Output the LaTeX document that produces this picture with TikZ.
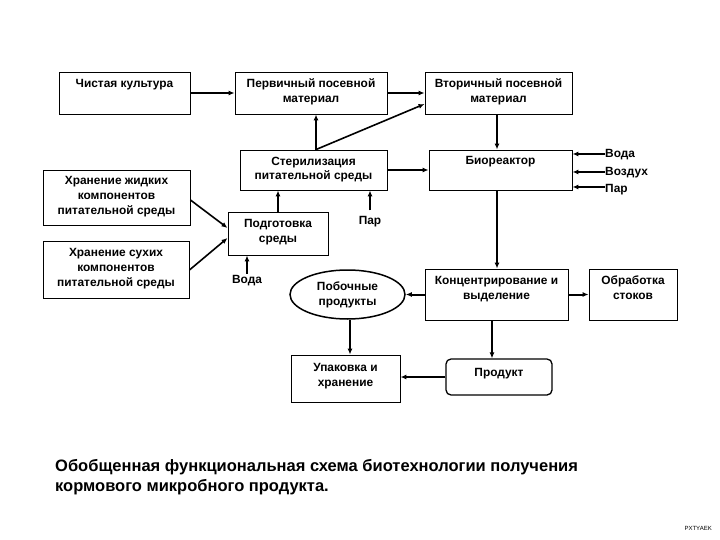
\documentclass[tikz,border=0pt]{standalone}
\usepackage{fontspec}
\setmainfont{Liberation Sans}
\usetikzlibrary{arrows.meta,shapes.geometric}
\begin{document}
\begin{tikzpicture}[x=1pt,y=-1pt,
  box/.style={draw,line width=0.9pt,inner sep=0pt},
  txt/.style={font=\fontsize{11.9}{14.8}\selectfont\bfseries,align=center,inner sep=0pt},
  thick arr/.style={line width=2pt,-{Latex[length=6pt,width=5pt]}},
  thin arr/.style={line width=1.1pt,-{Latex[length=6pt,width=5pt]}},
  mid arr/.style={line width=1.6pt,-{Latex[length=6pt,width=5pt]}}]
\useasboundingbox (0,0) rectangle (720,540);
% boxes
\node[box,minimum width=131pt,minimum height=42pt] (cult) at (124.5,93) {};
\node[box,minimum width=152pt,minimum height=42pt] (perv) at (311,93) {};
\node[box,minimum width=147pt,minimum height=42pt] (vtor) at (498.5,93) {};
\node[box,minimum width=147pt,minimum height=40pt] (ster) at (313.5,170) {};
\node[box,minimum width=143pt,minimum height=40pt] (bio) at (500.5,170) {};
\node[box,minimum width=147pt,minimum height=55pt] (zhid) at (116.5,197.5) {};
\node[box,minimum width=146pt,minimum height=57pt] (suh) at (116,269.5) {};
\node[box,minimum width=100pt,minimum height=43pt] (podg) at (278,233.5) {};
\node[draw,line width=1.5pt,ellipse,minimum width=115pt,minimum height=49pt,inner sep=0pt] (pob) at (347.5,294.5) {};
\node[box,minimum width=143pt,minimum height=51pt] (konc) at (496.5,294.5) {};
\node[box,minimum width=88pt,minimum height=51pt] (obr) at (633,294.5) {};
\node[box,minimum width=109pt,minimum height=47pt] (upak) at (345.5,378.5) {};
\node[box,rounded corners=5pt,line width=1.3pt,minimum width=106pt,minimum height=36pt] (prod) at (499,377) {};
% box texts
\node[txt,anchor=north] (tcult) at ([yshift=-7.5pt]cult.north) {Чистая культура};
\node[txt,anchor=north] (tperv) at ([yshift=-7pt]perv.north) {Первичный посевной\\материал};
\node[txt,anchor=north] (tvtor) at ([yshift=-7pt]vtor.north) {Вторичный посевной\\материал};
\node[txt,anchor=north] (tster) at ([yshift=-7pt]ster.north) {Стерилизация\\питательной среды};
\node[txt,anchor=north] (tbio) at ([yshift=-7pt]bio.north) {Биореактор};
\node[txt,anchor=north] (tzhid) at ([yshift=-7pt]zhid.north) {Хранение жидких\\компонентов\\питательной среды};
\node[txt,anchor=north] (tsuh) at ([yshift=-7.5pt]suh.north) {Хранение сухих\\компонентов\\питательной среды};
\node[txt,anchor=north] (tpodg) at ([yshift=-7.5pt]podg.north) {Подготовка\\среды};
\node[txt] (tpob) at (pob.center) {Побочные\\продукты};
\node[txt,anchor=north] (tkonc) at ([yshift=-7.5pt]konc.north) {Концентрирование и\\выделение};
\node[txt,anchor=north] (tobr) at ([yshift=-7.5pt]obr.north) {Обработка\\стоков};
\node[txt,anchor=north] (tupak) at ([yshift=-8.5pt]upak.north) {Упаковка и\\хранение};
\node[txt,anchor=north] (tprod) at ([yshift=-10pt]prod.north) {Продукт};
% free labels
\node[txt] (voda1) at (247,281) {Вода};
\node[txt] (par1) at (370,222) {Пар};
\node[txt,anchor=west] (voda2) at (605,155) {Вода};
\node[txt,anchor=west] (vozd) at (605,173) {Воздух};
\node[txt,anchor=west] (par2) at (605,190) {Пар};
% caption
\node[anchor=west,inner sep=0pt,font=\fontsize{16.5}{20.5}\selectfont\bfseries,align=left] (cap) at (55,477)
  {Обобщенная функциональная схема биотехнологии получения\\кормового микробного продукта.};
\node[anchor=east,inner sep=0pt,font=\fontsize{6}{7}\selectfont] (wm) at (712,528) {PXTYAEK};
% connectors
\draw[thick arr] (cult.east) -- (perv.west);
\draw[thick arr] (perv.east) -- (vtor.west);
\draw[thick arr] (ster.north -| 316,0) -- (perv.south -| 316,0);
\draw[mid arr] (ster.north -| 316,0) -- ([yshift=-11pt]vtor.west);
\draw[thick arr] (vtor.south -| 497,0) -- (bio.north -| 497,0);
\draw[thick arr] (ster.east) -- (bio.west);
\draw[thick arr] (podg.north -| 278,0) -- (ster.south -| 278,0);
\draw[thin arr] ([yshift=6pt]par1.north) -- (par1.north |- ster.south);
\draw[mid arr] ([yshift=-2.5pt]zhid.east) -- ([yshift=5.5pt]podg.west);
\draw[mid arr] ([yshift=-0.5pt]suh.east) -- ([yshift=-4.5pt]podg.west);
\draw[thin arr] ([yshift=2pt]voda1.north) -- (voda1.north |- podg.south);
\draw[thick arr] ([yshift=1pt]voda2.west) -- ([yshift=1pt]voda2.west -| bio.east);
\draw[thick arr] ([yshift=1pt]vozd.west) -- ([yshift=1pt]vozd.west -| bio.east);
\draw[thick arr] ([yshift=3pt]par2.west) -- ([yshift=3pt]par2.west -| bio.east);
\draw[thick arr] (bio.south -| 497,0) -- (konc.north -| 497,0);
\draw[thick arr] (konc.east) -- (obr.west);
\draw[thick arr] (konc.west) -- (pob.east);
\draw[thin arr] ([xshift=2.5pt]pob.south) -- ([xshift=4.5pt]upak.north);
\draw[thin arr] (konc.south -| 492,0) -- (prod.north -| 492,0);
\draw[thick arr] (prod.west) -- (prod.west -| upak.east);
\end{tikzpicture}
\end{document}
